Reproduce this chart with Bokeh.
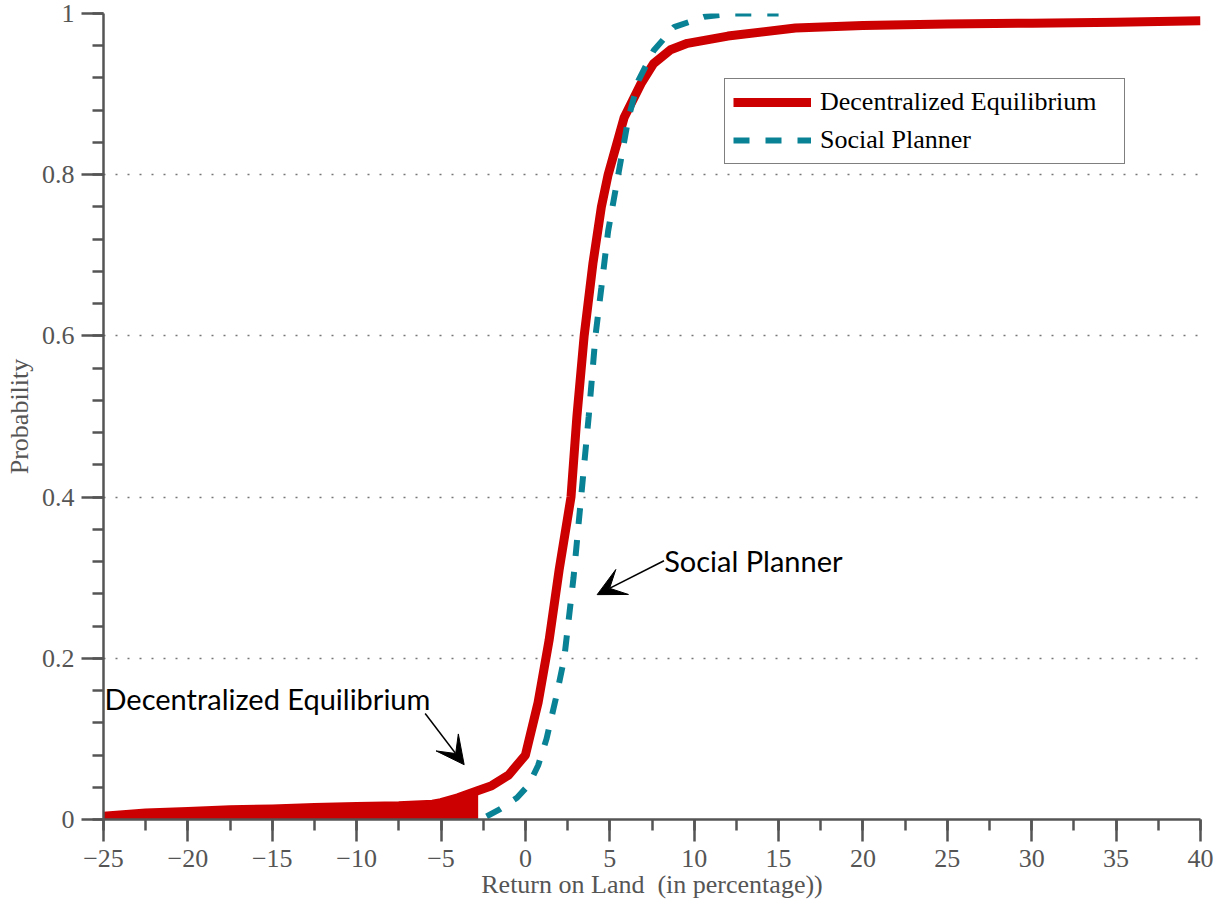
from bokeh.plotting import figure
from bokeh.models import (Range1d, Legend, LegendItem, Arrow, VeeHead, Label,
                          FixedTicker, CustomJSTickFormatter)
from bokeh.embed import file_html
from bokeh.resources import INLINE

# Decentralized equilibrium (x = return on land in %, y = cumulative probability)
de_x = [-25, -22.5, -20, -17.5, -15, -12.5, -10, -7.5, -5.5, -5, -4, -2.8, -2, -1, 0,
        0.75, 1.4, 2.0, 2.7, 3.05, 3.48, 4.0, 4.5, 4.9, 5.85, 6.85, 7.6, 8.6, 9.6,
        12, 16, 20, 25, 30, 35, 40]
de_y = [0.004, 0.008, 0.010, 0.012, 0.013, 0.015, 0.016, 0.017, 0.019, 0.021, 0.027,
        0.036, 0.042, 0.055, 0.080, 0.145, 0.222, 0.31, 0.40, 0.50, 0.60, 0.69, 0.76,
        0.80, 0.871, 0.913, 0.938, 0.955, 0.963, 0.972, 0.982, 0.985, 0.987, 0.988,
        0.989, 0.991]

# Social planner
sp_x = [-2.3, -1.5, -0.5, 0.2, 0.75, 1.25, 1.8, 2.3, 2.85, 3.3, 3.75, 4.15, 4.5, 4.9,
        5.5, 6.1, 6.7, 7.6, 8.8, 10.6, 12.4, 15]
sp_y = [0.004, 0.013, 0.027, 0.043, 0.067, 0.10, 0.15, 0.20, 0.30, 0.40, 0.50, 0.60,
        0.66, 0.73, 0.80, 0.87, 0.917, 0.954, 0.983, 0.996, 1.0, 1.0]

fill_end = -2.8
x_ticks = [-25, -20, -15, -10, -5, 0, 5, 10, 15, 20, 25, 30, 35, 40]
y_ticks = [0, 0.2, 0.4, 0.6, 0.8, 1.0]
x_title = "Return on Land\u00a0 (in percentage))"
y_title = "Probability"

RED = "#cc0000"
TEAL = "#0a8296"
GREY = "#555555"

p = figure(width=1215, height=909, output_backend="svg", toolbar_location=None,
           x_range=Range1d(-25, 40), y_range=Range1d(0, 1),
           min_border_left=103, min_border_right=15, min_border_top=13,
           min_border_bottom=90)
p.outline_line_color = None
p.background_fill_color = "white"

p.xaxis.ticker = FixedTicker(ticks=x_ticks,
                             minor_ticks=[-25 + 2.5 * i for i in range(27)])
p.yaxis.ticker = FixedTicker(ticks=y_ticks,
                             minor_ticks=[round(0.04 * i, 2) for i in range(26)])
p.xaxis.formatter = CustomJSTickFormatter(
    code="return tick < 0 ? '\u2212' + Math.abs(tick) : String(tick);")
p.yaxis.formatter = CustomJSTickFormatter(
    code="return String(Math.round(tick * 10) / 10);")

for ax in (p.xaxis, p.yaxis):
    ax.axis_line_color = GREY
    ax.axis_line_width = 2.5
    ax.major_tick_line_color = GREY
    ax.major_tick_line_width = 2.5
    ax.minor_tick_line_color = GREY
    ax.minor_tick_line_width = 2.5
    ax.major_tick_in = 0
    ax.major_tick_out = 22
    ax.minor_tick_in = 0
    ax.minor_tick_out = 11
    ax.major_label_text_font = "Liberation Serif"
    ax.major_label_text_font_size = "26px"
    ax.major_label_text_color = GREY
    ax.major_label_standoff = 8
    ax.axis_label_text_font = "Liberation Serif"
    ax.axis_label_text_font_size = "26px"
    ax.axis_label_text_font_style = "normal"
    ax.axis_label_text_color = GREY

p.xaxis.axis_label = x_title
p.xaxis.axis_label_standoff = 0
p.yaxis.major_label_standoff = 7
p.yaxis.axis_label = y_title
p.yaxis.axis_label_standoff = 5

p.xgrid.visible = False
p.ygrid.grid_line_color = "#777777"
p.ygrid.grid_line_width = 1.5
p.ygrid.grid_line_dash = "2 10"

fx = [x for x in de_x if x <= fill_end]
fy = [y for x, y in zip(de_x, de_y) if x <= fill_end]
p.varea(x=fx, y1=[0] * len(fx), y2=fy, fill_color=RED)

r_de = p.line(de_x, de_y, line_color=RED, line_width=9, line_join="round")
r_sp = p.line(sp_x, sp_y, line_color=TEAL, line_width=6, line_dash="16 16")

legend = Legend(items=[LegendItem(label="Decentralized Equilibrium", renderers=[r_de]),
                       LegendItem(label="Social Planner", renderers=[r_sp])],
                location=(621, 655))
legend.border_line_color = "black"
legend.border_line_width = 1.5
legend.label_text_font = "Liberation Serif"
legend.label_text_font_size = "26px"
legend.label_text_color = "black"
legend.glyph_width = 78
legend.glyph_height = 26
legend.spacing = 8
legend.padding = 8
legend.label_standoff = 9
legend.label_width = 296
legend.margin = 0
p.add_layout(legend)

p.add_layout(Label(x=-24.94, y=0.150, text="Decentralized Equilibrium",
                   text_font="Lato", text_font_size="29px", text_color="black",
                   text_baseline="middle", text_align="left"))
p.add_layout(Label(x=8.22, y=0.321, text="Social Planner",
                   text_font="Lato", text_font_size="29px", text_color="black",
                   text_baseline="middle", text_align="left"))

p.add_layout(Arrow(end=VeeHead(size=28, fill_color="black", line_color="black"),
                   x_start=-5.94, y_start=0.1315, x_end=-3.63, y_end=0.068,
                   line_width=1.5, line_color="black"))
p.add_layout(Arrow(end=VeeHead(size=28, fill_color="black", line_color="black"),
                   x_start=8.21, y_start=0.321, x_end=4.25, y_end=0.279,
                   line_width=1.5, line_color="black"))

open("out.html", "w").write(file_html(p, INLINE))
